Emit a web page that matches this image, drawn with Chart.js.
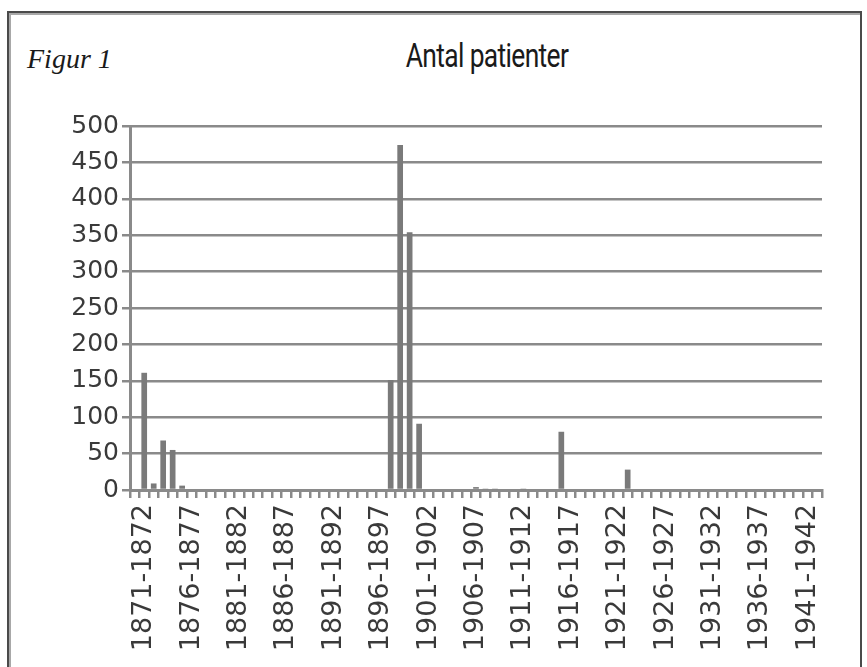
<!DOCTYPE html>
<html>
<head>
<meta charset="utf-8">
<script src="https://cdn.jsdelivr.net/npm/chart.js@4/dist/chart.umd.min.js"></script>
<style>
  html, body { margin: 0; padding: 0; background: #fff; }
  #ram {
    position: absolute; left: 7px; top: 11px; width: 851px; height: 700px;
    border-left: 2px solid #4a4a4a; border-top: 2px solid #4a4a4a; border-right: 2px solid #4a4a4a;
    box-shadow: inset 2px 2px 0 #a8a8a8;
  }
  #figur {
    position: absolute; left: 27px; top: 43px;
    font-family: "Liberation Serif", serif; font-style: italic; font-size: 28px; color: #1a1a1a;
  }
  #rubrik {
    position: absolute; left: 377px; width: 220px; top: 36px; text-align: center;
    font-family: Roboto, sans-serif; font-size: 33px;
    color: #1a1a1a; letter-spacing: -0.8px; transform: scaleX(0.8);
  }
  canvas { position: absolute; left: 0; top: 0; }
</style>
</head>
<body>
<div id="ram"></div>
<div id="figur">Figur 1</div>
<div id="rubrik">Antal patienter</div>
<canvas id="chart-patienter" width="867" height="667"></canvas>
<script>
// Antal patienter per år (läst ur figuren)
const perioder = [
  '1870-1871','1871-1872','1872-1873','1873-1874','1874-1875','1875-1876','1876-1877','1877-1878','1878-1879','1879-1880',
  '1880-1881','1881-1882','1882-1883','1883-1884','1884-1885','1885-1886','1886-1887','1887-1888','1888-1889','1889-1890',
  '1890-1891','1891-1892','1892-1893','1893-1894','1894-1895','1895-1896','1896-1897','1897-1898','1898-1899','1899-1900',
  '1900-1901','1901-1902','1902-1903','1903-1904','1904-1905','1905-1906','1906-1907','1907-1908','1908-1909','1909-1910',
  '1910-1911','1911-1912','1912-1913','1913-1914','1914-1915','1915-1916','1916-1917','1917-1918','1918-1919','1919-1920',
  '1920-1921','1921-1922','1922-1923','1923-1924','1924-1925','1925-1926','1926-1927','1927-1928','1928-1929','1929-1930',
  '1930-1931','1931-1932','1932-1933','1933-1934','1934-1935','1935-1936','1936-1937','1937-1938','1938-1939','1939-1940',
  '1940-1941','1941-1942','1942-1943'
];
const patienter = [
  0, 161, 9, 68, 55, 6, 0, 0, 0, 0,
  0, 0, 0, 0, 0, 0, 0, 0, 0, 0,
  0, 0, 0, 0, 0, 0, 0, 151, 474, 354,
  91, 0, 0, 0, 0, 0, 4, 1, 1, 0,
  0, 1, 0, 0, 0, 80, 0, 0, 0, 0,
  0, 0, 28, 0, 0, 0, 0, 0, 0, 0,
  0, 0, 0, 0, 0, 0, 0, 0, 0, 0,
  0, 0, 0
];
// bara var femte period har etikett
const visadeEtiketter = ['1871-1872','1876-1877','1881-1882','1886-1887','1891-1892','1896-1897','1901-1902',
  '1906-1907','1911-1912','1916-1917','1921-1922','1926-1927','1931-1932','1936-1937','1941-1942'];

const gra = '#8a8a8a';

new Chart(document.getElementById('chart-patienter').getContext('2d'), {
  type: 'bar',
  data: {
    labels: perioder,
    datasets: [{ data: patienter, backgroundColor: '#7a7a7a', categoryPercentage: 1, barPercentage: 0.6 }]
  },
  options: {
    responsive: false,
    animation: false,
    devicePixelRatio: 1,
    layout: { padding: { top: 126, right: 45, left: 0, bottom: 0 } },
    plugins: { legend: { display: false }, tooltip: { enabled: false }, title: { display: false } },
    scales: {
      x: {
        grid: { offset: true, drawOnChartArea: false, color: gra, lineWidth: 2.5, tickLength: 8 },
        border: { color: gra, width: 3 },
        ticks: {
          autoSkip: false, maxRotation: 90, minRotation: 90, padding: 6,
          color: '#3a3a3a', font: { family: 'DejaVu Sans', size: 27 },
          callback: (v, i) => visadeEtiketter.includes(perioder[i]) ? perioder[i] : ''
        },
        afterFit: s => { s.height = 177; }
      },
      y: {
        min: 0, max: 500,
        grid: { color: gra, lineWidth: 2.5, tickLength: 8 },
        border: { color: gra, width: 3 },
        ticks: { stepSize: 50, padding: 3, color: '#3a3a3a', font: { family: 'DejaVu Sans', size: 25 } },
        afterFit: s => { s.width = 130; }
      }
    }
  }
});
</script>
</body>
</html>
